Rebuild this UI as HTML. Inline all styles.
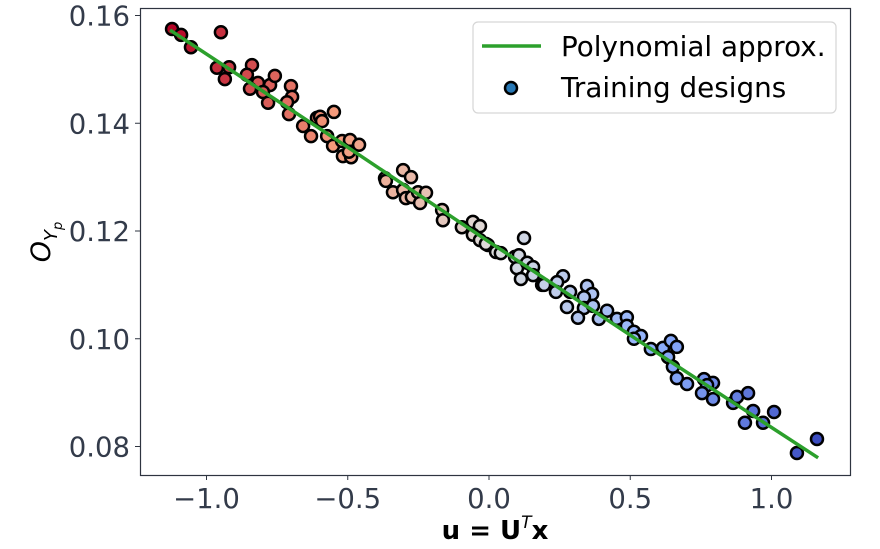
<!DOCTYPE html>
<html><head><meta charset="utf-8"><style>
body{margin:0;background:#fff;}
svg{font-family:"DejaVu Sans","Liberation Sans",sans-serif;}
</style></head><body>
<svg id="chart" width="880" height="544" xmlns="http://www.w3.org/2000/svg">
<rect x="0" y="0" width="880" height="544" fill="#fff"/>
<g id="marks"></g>
<rect x="140.5" y="8.5" width="710" height="467" fill="none" stroke="#2e3440" stroke-width="1.2"/>
<g id="xticks"></g>
<g id="yticks"></g>
<text x="495" y="539" text-anchor="middle" font-size="26" font-weight="bold" fill="#000">u = U<tspan font-size="17" dy="-11" font-style="italic" font-weight="normal">T</tspan><tspan dy="11">x</tspan></text>
<text transform="translate(50,242) rotate(-90)" text-anchor="middle" font-size="27" font-style="italic" fill="#000">O<tspan font-size="18" dy="7">Y</tspan><tspan font-size="13" dy="5">p</tspan></text>
<g>
<rect x="473" y="22" width="363" height="91" rx="5" fill="#fff" fill-opacity="0.85" stroke="#d6d6d6" stroke-width="1.2"/>
<line x1="482" y1="46" x2="541" y2="46" stroke="#2ca02c" stroke-width="3.5"/>
<text x="561" y="56" font-size="27.8" fill="#000">Polynomial approx.</text>
<circle cx="511" cy="88" r="6" fill="#2878b5" stroke="#000" stroke-width="2.5"/>
<text x="561" y="97" font-size="27.8" fill="#000">Training designs</text>
</g>
</svg>
<script>
const xs = [-1.122,-1.090,-1.055,-0.949,-0.963,-0.920,-0.935,-0.839,-0.857,-0.818,-0.775,-0.758,-0.846,-0.800,-0.782,-0.701,-0.697,-0.715,-0.708,-0.658,-0.630,-0.609,-0.598,-0.591,-0.549,-0.573,-0.552,-0.520,-0.492,-0.460,-0.517,-0.488,-0.496,-0.368,-0.365,-0.304,-0.276,-0.340,-0.304,-0.294,-0.273,-0.251,-0.223,-0.244,-0.166,-0.163,-0.096,-0.057,-0.032,-0.057,-0.032,-0.004,
0.124,-0.011,0.025,0.042,0.092,0.106,0.099,0.113,0.135,0.156,0.156,0.188,0.195,0.262,0.241,0.237,0.287,0.347,0.365,0.336,0.276,0.336,0.368,0.315,0.389,0.418,0.453,0.488,0.488,0.513,0.538,0.513,0.573,0.616,0.644,0.665,0.634,0.651,0.665,0.701,0.761,0.793,0.772,0.754,0.793,0.864,0.878,0.917,0.935,1.009,0.906,0.970,1.161,1.090];
const ys = [0.1575,0.1564,0.1541,0.1569,0.1503,0.1504,0.1482,0.1508,0.1490,0.1475,0.1471,0.1488,0.1464,0.1458,0.1438,0.1469,0.1449,0.1439,0.1417,0.1395,0.1376,0.1410,0.1412,0.1404,0.1421,0.1376,0.1358,0.1367,0.1369,0.1360,0.1339,0.1337,0.1347,0.1298,0.1293,0.1313,0.1300,0.1272,0.1276,0.1261,0.1263,0.1272,0.1271,0.1252,0.1239,0.1220,0.1207,0.1217,0.1209,0.1193,0.1183,0.1174,
0.1187,0.1176,0.1161,0.1159,0.1152,0.1155,0.1131,0.1111,0.1141,0.1133,0.1118,0.1100,0.1100,0.1116,0.1105,0.1087,0.1087,0.1098,0.1083,0.1077,0.1059,0.1057,0.1061,0.1039,0.1037,0.1052,0.1037,0.1040,0.1024,0.1013,0.1005,0.1000,0.0981,0.0983,0.0996,0.0985,0.0966,0.0948,0.0927,0.0916,0.0925,0.0918,0.0914,0.0899,0.0888,0.0881,0.0892,0.0899,0.0866,0.0864,0.0844,0.0844,0.0814,0.0788];
const lineX = [-1.129, -0.55, 0.0, 0.6, 1.165];
const lineY = [0.1573, 0.1373, 0.1180, 0.0972, 0.0779];
const xTickVals = [-1.0, -0.5, 0.0, 0.5, 1.0];
const xTickLabels = ["\u22121.0", "\u22120.5", "0.0", "0.5", "1.0"];
const yTickVals = [0.08, 0.10, 0.12, 0.14, 0.16];
const yTickLabels = ["0.08", "0.10", "0.12", "0.14", "0.16"];

const NS = "http://www.w3.org/2000/svg";
function sx(v){ return 489 + v * 282.5; }
function sy(v){ return 231 - (v - 0.12) * 5387.5; }
const stops = [[59,76,192],[141,176,254],[221,221,221],[244,154,123],[180,4,38]];
function cmap(t){
  t = 1 - Math.max(0, Math.min(1, t));
  const p = t * 4, i = Math.min(3, Math.floor(p)), f = p - i;
  const a = stops[i], b = stops[i+1];
  return "rgb(" + a.map((c,k)=>Math.round(c + (b[k]-c)*f)).join(",") + ")";
}
const marks = document.getElementById("marks");
const xmin = Math.min(...xs), xmax = Math.max(...xs);
xs.forEach((x, i) => {
  const c = document.createElementNS(NS, "circle");
  c.setAttribute("cx", sx(x));
  c.setAttribute("cy", sy(ys[i]));
  c.setAttribute("r", 6);
  c.setAttribute("fill", cmap((x - xmin) / (xmax - xmin)));
  c.setAttribute("stroke", "#000");
  c.setAttribute("stroke-width", 2.5);
  
  
  marks.appendChild(c);
});
const pl = document.createElementNS(NS, "polyline");
pl.setAttribute("points", lineX.map((x, i) => sx(x) + "," + sy(lineY[i])).join(" "));
pl.setAttribute("fill", "none");
pl.setAttribute("stroke", "#2ca02c");
pl.setAttribute("stroke-width", 3.5);


marks.appendChild(pl);

const xg = document.getElementById("xticks");
xTickVals.forEach((v, i) => {
  const l = document.createElementNS(NS, "line");
  l.setAttribute("x1", sx(v)); l.setAttribute("x2", sx(v));
  l.setAttribute("y1", 475); l.setAttribute("y2", 480);
  l.setAttribute("stroke", "#2e3440");
  
  
  xg.appendChild(l);
  const t = document.createElementNS(NS, "text");
  t.setAttribute("x", sx(v)); t.setAttribute("y", 508);
  t.setAttribute("text-anchor", "middle");
  t.setAttribute("font-size", "27.5");
  t.setAttribute("fill", "#333b4a");
  t.textContent = xTickLabels[i];
  
  
  xg.appendChild(t);
});
const yg = document.getElementById("yticks");
yTickVals.forEach((v, i) => {
  const l = document.createElementNS(NS, "line");
  l.setAttribute("x1", 135); l.setAttribute("x2", 140);
  l.setAttribute("y1", sy(v)); l.setAttribute("y2", sy(v));
  l.setAttribute("stroke", "#2e3440");
  
  
  yg.appendChild(l);
  const t = document.createElementNS(NS, "text");
  t.setAttribute("x", 130); t.setAttribute("y", sy(v) + 10);
  t.setAttribute("text-anchor", "end");
  t.setAttribute("font-size", "27.5");
  t.setAttribute("fill", "#333b4a");
  t.textContent = yTickLabels[i];
  
  
  yg.appendChild(t);
});
</script>
</body></html>
